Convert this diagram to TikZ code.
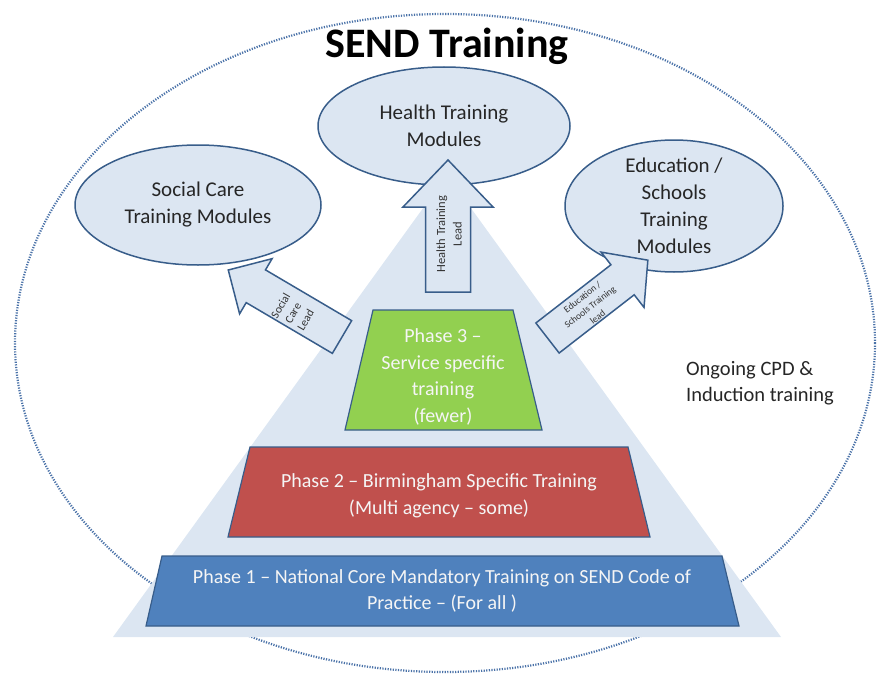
\documentclass[tikz,border=0pt]{standalone}
\usepackage{fontspec}
\setmainfont{Carlito}
\usetikzlibrary{shapes.geometric}
\definecolor{paleblue}{HTML}{DCE6F2}
\definecolor{edgeblue}{HTML}{385D8A}
\definecolor{dotblue}{HTML}{4A72A8}
\definecolor{phaseone}{HTML}{4F81BD}
\definecolor{phasetwo}{HTML}{C0504D}
\definecolor{phasethree}{HTML}{92D050}
\tikzset{%
  module/.style={ellipse, draw=edgeblue, fill=paleblue, line width=1.5pt},
  moduletext/.style={text=black!85, align=center, inner sep=0pt, font=\fontsize{21}{27}\selectfont},
  leadarrow/.style={draw=edgeblue, fill=paleblue, line width=1.5pt, line join=miter},
  leadtext/.style={text=black!80, align=center, inner sep=0pt},
  phasebox/.style={draw=edgeblue, line width=1.2pt},
  phasetext/.style={text=white!96!black, align=center, font=\fontsize{20}{26.5}\selectfont}
}

\begin{document}
\begin{tikzpicture}[x=1pt, y=-1pt]
  \useasboundingbox (0,0) rectangle (880,674);
  \draw[dotblue, line width=2.2pt, dash pattern=on 1.2pt off 1.4pt] (445,343) ellipse [x radius=430, y radius=329];
  \node[font=\bfseries\fontsize{42}{50}\selectfont, anchor=base] (title) at (447,58) {SEND Training};

  \fill[paleblue] (447,175) -- (781,637) -- (113,637) -- cycle;
  \draw[phasebox, fill=phaseone] (162,556) -- (722,556) -- (739,626) -- (146,626) -- cycle;
  \draw[phasebox, fill=phasetwo] (250,447) -- (628,447) -- (650,537) -- (228,537) -- cycle;
  \draw[phasebox, fill=phasethree] (373,310) -- (513,310) -- (542,430) -- (345,430) -- cycle;
  \node[phasetext] (phase1) at (442,591) {Phase 1 – National Core Mandatory Training on SEND Code of\\Practice – (For all )};
  \node[phasetext] (phase2) at (439,496) {Phase 2 – Birmingham Specific Training\\(Multi agency – some)};
  \node[phasetext] (phase3) at (443,377) {Phase 3 –\\Service specific\\training\\(fewer)};

  \node[module, minimum width=252, minimum height=118] (health) at (444,126) {};
  \node[module, minimum width=246, minimum height=120] (social) at (198,205) {};
  \node[module, minimum width=218, minimum height=132] (education) at (674,206) {};
  \node[moduletext] (healthtext) at (health) {Health Training\\Modules};
  \node[moduletext] (socialtext) at (social) {Social Care\\Training Modules};
  \node[moduletext] (educationtext) at (education) {Education /\\Schools\\Training\\Modules};

  \begin{scope}[shift={(448,292)}, rotate=90]
    \draw[leadarrow] (0,-22.5) -- (85,-22.5) -- (85,-45) -- (132,0) -- (85,45) -- (85,22.5) -- (0,22.5) -- cycle;
  \end{scope}
  \begin{scope}[shift={(342,337)}, rotate=149.5]
    \draw[leadarrow] (0,-19) -- (100,-19) -- (100,-32) -- (132,0) -- (100,32) -- (100,19) -- (0,19) -- cycle;
  \end{scope}
  \begin{scope}[shift={(547.5,338)}, rotate=37.8]
    \draw[leadarrow] (0,-19) -- (95,-19) -- (95,-35) -- (127,0) -- (95,35) -- (95,19) -- (0,19) -- cycle;
  \end{scope}
  \node[leadtext, rotate=90, font=\fontsize{12.5}{16.5}\selectfont] (healthlead) at (449,234) {Health Training\\Lead};
  \node[leadtext, rotate=60, font=\fontsize{11.5}{14.5}\selectfont] (sociallead) at (293,313) {Social\\Care\\Lead};
  \node[leadtext, rotate=37.8, font=\fontsize{9.5}{12.5}\selectfont] (educationlead) at (590,307) {Education /\\Schools Training\\lead};

  \node[text=black!85, align=left, font=\fontsize{20.5}{26}\selectfont] (cpd) at (760,383) {Ongoing CPD \&\\Induction training};
\end{tikzpicture}
\end{document}
